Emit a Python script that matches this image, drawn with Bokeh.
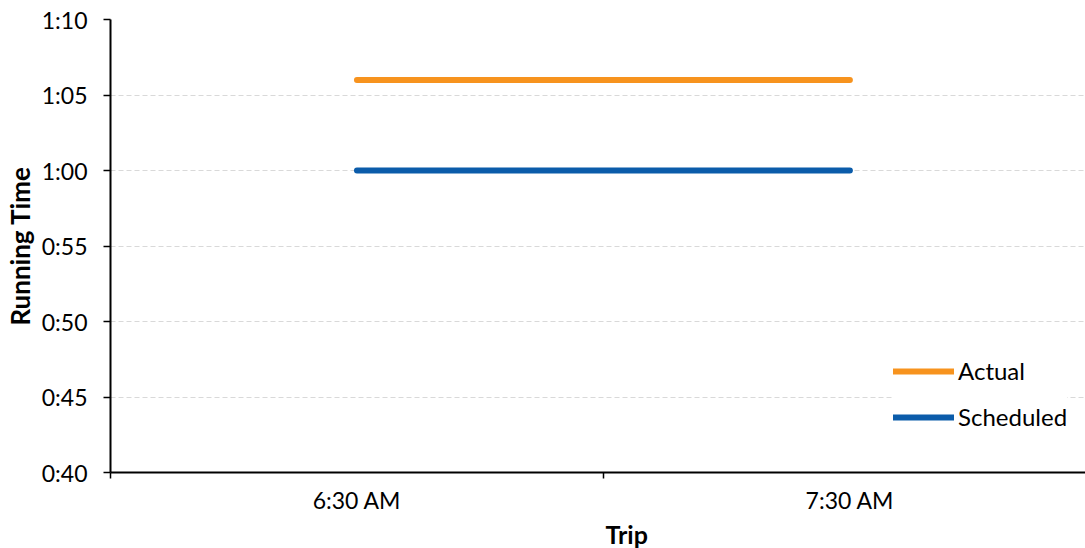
from bokeh.plotting import figure
from bokeh.models import Range1d, FixedTicker, Legend, LegendItem, Title
from bokeh.embed import file_html
from bokeh.resources import INLINE

# ---- data ----
trips = ["6:30 AM", "7:30 AM"]
actual = [66, 66]        # minutes
scheduled = [60, 60]     # minutes
y_ticks = [40, 45, 50, 55, 60, 65, 70]
y_labels = ["0:40", "0:45", "0:50", "0:55", "1:00", "1:05", "1:10"]

FONT = "Lato"
xs = [i + 0.5 for i in range(len(trips))]

p = figure(width=1085, height=548, output_backend="svg", toolbar_location=None,
           x_range=Range1d(0, 1.978), y_range=Range1d(40, 70),
           min_border_left=110, min_border_top=19, min_border_bottom=76,
           min_border_right=0)
p.outline_line_color = None
p.background_fill_color = "white"

ra = p.line(xs, actual, line_color="#F7931E", line_width=6, line_cap="round")
rs = p.line(xs, scheduled, line_color="#0B5CAA", line_width=6, line_cap="round")

# x axis: labels at category centres, ticks at category boundaries
p.xaxis.ticker = FixedTicker(ticks=xs, minor_ticks=list(range(len(trips) + 1)))
p.xaxis.major_label_overrides = {x: t for x, t in zip(xs, trips)}
p.xaxis.major_tick_out = 0
p.xaxis.major_tick_in = 0
p.xaxis.minor_tick_out = 6
p.xaxis.minor_tick_in = 0
p.xaxis.minor_tick_line_color = "black"
p.xaxis.minor_tick_line_width = 1.5
p.xaxis.axis_line_width = 2
p.xaxis.axis_line_color = "black"
p.xaxis.major_label_text_font = FONT
p.xaxis.major_label_text_font_size = "23px"
p.xaxis.major_label_text_color = "black"
p.xaxis.major_label_standoff = 7

# y axis
p.yaxis.ticker = FixedTicker(ticks=y_ticks, minor_ticks=[])
p.yaxis.major_label_overrides = {t: l for t, l in zip(y_ticks, y_labels)}
p.yaxis.major_tick_out = 7
p.yaxis.major_tick_in = 0
p.yaxis.major_tick_line_width = 1.5
p.yaxis.axis_line_width = 2
p.yaxis.axis_line_color = "black"
p.yaxis.major_label_text_font = FONT
p.yaxis.major_label_text_font_size = "23px"
p.yaxis.major_label_text_color = "black"
p.yaxis.major_label_standoff = 16
p.yaxis.axis_label = "Running Time"
p.yaxis.axis_label_text_font = FONT
p.yaxis.axis_label_text_font_size = "26px"
p.yaxis.axis_label_text_font_style = "bold"
p.yaxis.axis_label_text_color = "black"
p.yaxis.axis_label_standoff = 3

p.xgrid.grid_line_color = None
p.ygrid.grid_line_color = "#D9D9D9"
p.ygrid.grid_line_dash = "5 3"
p.ygrid.grid_line_width = 1

# x axis title
p.add_layout(Title(text="Trip", align="left", offset=495, text_font=FONT,
                   text_font_size="25px", text_font_style="bold",
                   text_color="black", standoff=0), "below")

legend = Legend(items=[LegendItem(label="Actual", renderers=[ra]),
                       LegendItem(label="Scheduled", renderers=[rs])],
                location=(783, 41), orientation="vertical")
legend.label_text_font = FONT
legend.label_text_font_size = "24px"
legend.label_text_color = "black"
legend.glyph_width = 61
legend.glyph_height = 24
legend.label_height = 24
legend.spacing = 17
legend.label_standoff = 4
legend.padding = 10
legend.margin = 0
legend.border_line_color = None
legend.background_fill_color = "white"
legend.background_fill_alpha = 1
p.add_layout(legend)

open("out.html", "w").write(file_html(p, INLINE))
